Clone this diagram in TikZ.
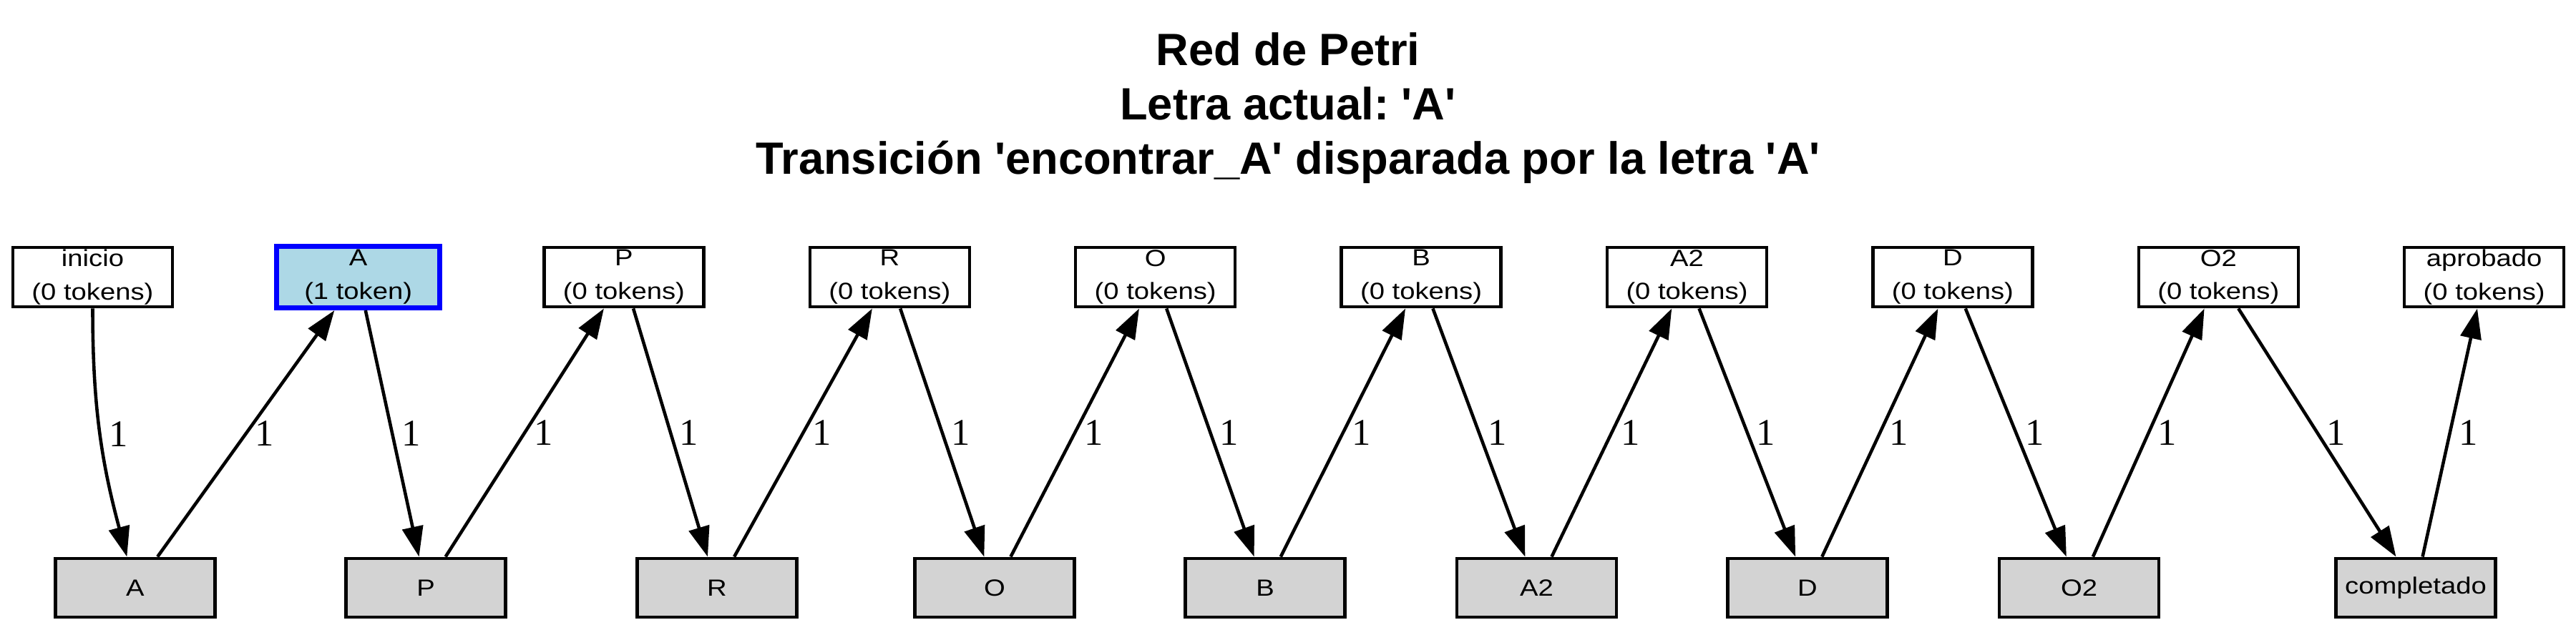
\documentclass[tikz,border=0pt]{standalone}
\usepackage{fontspec}
\setmainfont{Liberation Sans}
\newfontfamily\boxfont{Liberation Sans}[FakeStretch=1.17]
\newfontfamily\labelfont{Liberation Serif}
\usetikzlibrary{
  positioning,
  arrows.meta
}
\definecolor{tokenblue}{HTML}{0000FF}
\definecolor{tokenfill}{HTML}{ADD8E6}
\definecolor{transgrey}{HTML}{D3D3D3}
\newcommand{\q}{\textquotesingle}
\frenchspacing

\begin{document}
\begin{tikzpicture}[
  node distance=1.44cm,
  place/.style={draw, rectangle, line width=1.25pt, align=center, minimum width=2.23cm, minimum height=0.835cm, inner xsep=2pt, inner ysep=0pt, fill=white, font=\boxfont\fontsize{9.3}{13.3}\selectfont},
  active/.style={place, draw=tokenblue, line width=2pt, fill=tokenfill, minimum width=2.28cm, minimum height=0.86cm},
  trans/.style={draw, rectangle, line width=1.25pt, minimum width=2.23cm, minimum height=0.825cm, fill=transgrey, font=\boxfont\fontsize{9.3}{11}\selectfont},
  arc/.style={-{Triangle[length=12pt, width=8.3pt]}, line width=1.3pt},
  weight/.style={midway, right, inner sep=3pt, font=\labelfont\fontsize{15}{18}\selectfont}
]
\useasboundingbox (0,0) rectangle (36,8.8);

% Title
\node[align=center, font=\bfseries\fontsize{18}{21.6}\selectfont] (title) at (18,7.285)
  {Red de Petri\\Letra actual: \q A\q\\Transición \q encontrar\_A\q{} disparada por la letra \q A\q};

% Places
\node[place] (inicio) at (1.295,4.925) {inicio\\(0 tokens)};
\node[active, right=1.40cm of inicio] (pA) {A\\(1 token)};
\node[place, right=1.40cm of pA] (pP) {P\\(0 tokens)};
\node[place, right=of pP] (pR) {R\\(0 tokens)};
\node[place, right=of pR] (pO) {O\\(0 tokens)};
\node[place, right=of pO] (pB) {B\\(0 tokens)};
\node[place, right=of pB] (pA2) {A2\\(0 tokens)};
\node[place, right=of pA2] (pD) {D\\(0 tokens)};
\node[place, right=of pD] (pO2) {O2\\(0 tokens)};
\node[place, right=of pO2] (aprobado) {aprobado\\(0 tokens)};

% Transitions
\node[trans] (tA) at (1.89,0.58) {A};
\node[trans] (tP) at (5.95,0.58) {P};
\node[trans] (tR) at (10.02,0.58) {R};
\node[trans] (tO) at (13.90,0.58) {O};
\node[trans] (tB) at (17.68,0.58) {B};
\node[trans] (tA2) at (21.475,0.58) {A2};
\node[trans] (tD) at (25.26,0.58) {D};
\node[trans] (tO2) at (29.055,0.58) {O2};
\node[trans] (tCompletado) at (33.76,0.58) {completado};

% Arcs
\draw[arc] (inicio) to[out=-90, in=105] node[weight] {1} (tA);
\draw[arc] (tA) -- node[weight] {1} (pA);
\draw[arc] (pA) -- node[weight] {1} (tP);
\draw[arc] (tP) -- node[weight] {1} (pP);
\draw[arc] (pP) -- node[weight] {1} (tR);
\draw[arc] (tR) -- node[weight] {1} (pR);
\draw[arc] (pR) -- node[weight] {1} (tO);
\draw[arc] (tO) -- node[weight] {1} (pO);
\draw[arc] (pO) -- node[weight] {1} (tB);
\draw[arc] (tB) -- node[weight] {1} (pB);
\draw[arc] (pB) -- node[weight] {1} (tA2);
\draw[arc] (tA2) -- node[weight] {1} (pA2);
\draw[arc] (pA2) -- node[weight] {1} (tD);
\draw[arc] (tD) -- node[weight] {1} (pD);
\draw[arc] (pD) -- node[weight] {1} (tO2);
\draw[arc] (tO2) -- node[weight] {1} (pO2);
\draw[arc] (pO2) -- node[weight] {1} (tCompletado);
\draw[arc] (tCompletado) -- node[weight] {1} (aprobado);

\end{tikzpicture}
\end{document}
